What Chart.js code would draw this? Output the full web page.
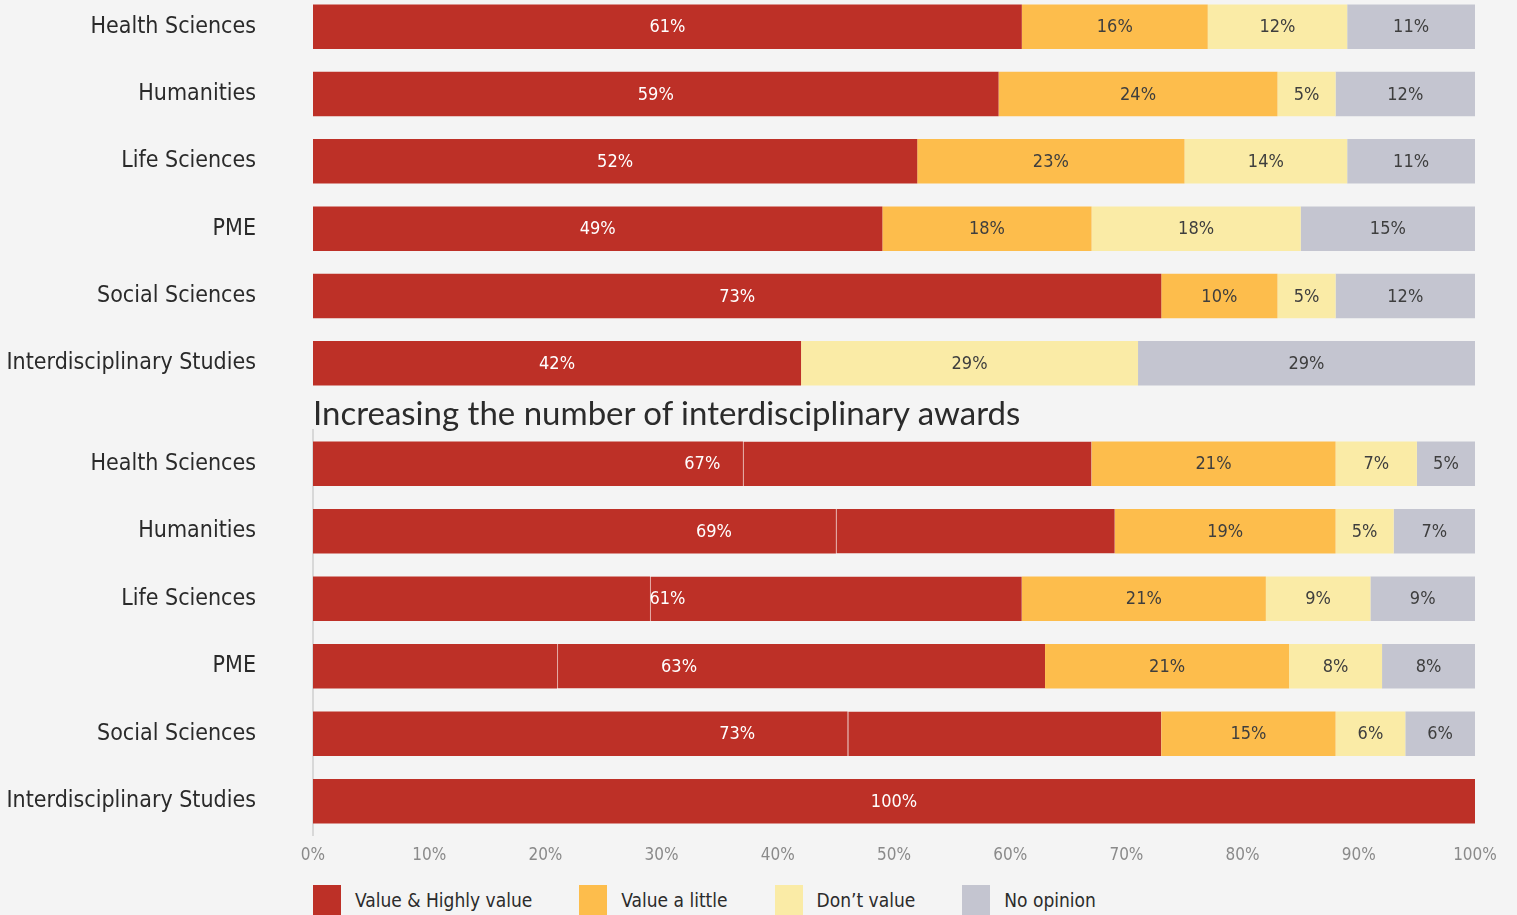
<!DOCTYPE html>
<html>
<head>
<meta charset="utf-8">
<title>Survey responses by faculty</title>
<script src="https://cdn.jsdelivr.net/npm/chart.js@4.4.1/dist/chart.umd.min.js"></script>
<style>
  html, body { margin: 0; padding: 0; background: #f4f4f4; overflow: hidden; }
  body { width: 1517px; height: 915px; position: relative; }
  #top-chart { position: absolute; left: 0; top: -7px; }
  #bottom-chart { position: absolute; left: 0; top: 395px; }
  #panel-title {
    position: absolute; left: 313px; top: 392px;
    font: 33px Lato, "Open Sans", sans-serif; color: #2b2b2b; white-space: nowrap;
  }
  #legend {
    position: absolute; left: 313px; top: 885px; display: flex;
    font: 19px "DejaVu Sans Condensed", sans-serif; color: #2b2b2b;
  }
  .item { display: flex; align-items: flex-start; margin-right: 47px; }
  .swatch { width: 28px; height: 32px; margin-right: 14px; }
  .item span { line-height: 30px; }
</style>
</head>
<body>
<canvas id="top-chart" width="1517" height="404"></canvas>
<div id="panel-title">Increasing the number of interdisciplinary awards</div>
<canvas id="bottom-chart" width="1517" height="470"></canvas>
<div id="legend"></div>

<script>
const faculties = ["Health Sciences", "Humanities", "Life Sciences", "PME", "Social Sciences", "Interdisciplinary Studies"];
const seriesNames = ["Value & Highly value", "Value a little", "Don\u2019t value", "No opinion"];
const seriesColors = ["#bd3027", "#fdbd4c", "#faeba6", "#c4c5d0"];
const xTicks = [0, 10, 20, 30, 40, 50, 60, 70, 80, 90, 100];

// first panel
const topValue = [61, 59, 52, 49, 73, 42];
const topLittle = [16, 24, 23, 18, 10, 0];
const topDont = [12, 5, 14, 18, 5, 29];
const topNone = [11, 12, 11, 15, 12, 29];

// interdisciplinary awards panel (red bar is two pieces: highly value + value)
const awardsHighly = [37, 45, 29, 21, 46, 100];
const awardsValue = [30, 24, 32, 42, 27, 0];
const awardsLittle = [21, 19, 21, 21, 15, 0];
const awardsDont = [7, 5, 9, 8, 6, 0];
const awardsNone = [5, 7, 9, 8, 6, 0];

const labelFont = '"DejaVu Sans Condensed", sans-serif';

// writes the percentage in the middle of each (grouped) segment
const barLabels = {
  id: 'barLabels',
  afterDatasetsDraw(chart, args, opts) {
    const ctx = chart.ctx;
    ctx.save();
    ctx.font = '18px ' + labelFont;
    ctx.textAlign = 'center';
    ctx.textBaseline = 'middle';
    opts.groups.forEach(group => {
      const metas = group.map(i => chart.getDatasetMeta(i));
      chart.data.labels.forEach((_, idx) => {
        const total = group.reduce((s, i) => s + chart.data.datasets[i].data[idx], 0);
        if (!total) return;
        const first = metas[0].data[idx];
        const last = metas[metas.length - 1].data[idx];
        ctx.fillStyle = group[0] <= opts.lightUpTo ? '#ffffff' : '#3e3e3e';
        ctx.fillText(total + '%', (first.base + last.x) / 2, first.y + 1);
      });
    });
    ctx.restore();
  }
};

function yAxis(border) {
  return {
    stacked: true,
    grid: { display: false, drawTicks: false },
    border: border,
    ticks: { color: '#2a2a2a', padding: 57, font: { size: 23, family: labelFont } },
    afterFit(scale) {
      scale.width = 313;
      scale.paddingTop = 0;
      scale.paddingBottom = 0;
    }
  };
}

const topChart = new Chart(document.getElementById('top-chart'), {
  type: 'bar',
  data: {
    labels: faculties,
    datasets: [topValue, topLittle, topDont, topNone].map((d, i) => ({
      label: seriesNames[i], data: d, backgroundColor: seriesColors[i],
      categoryPercentage: 1, barPercentage: 0.66
    }))
  },
  options: {
    indexAxis: 'y',
    responsive: false,
    animation: false,
    layout: { padding: { right: 42 } },
    scales: {
      x: { stacked: true, min: 0, max: 100, display: false },
      y: yAxis({ display: false })
    },
    plugins: {
      legend: { display: false },
      tooltip: { enabled: false },
      barLabels: { groups: [[0], [1], [2], [3]], lightUpTo: 0 }
    }
  },
  plugins: [barLabels]
});

const awardsSets = [awardsHighly, awardsValue, awardsLittle, awardsDont, awardsNone];
const awardsColors = [seriesColors[0], seriesColors[0], seriesColors[1], seriesColors[2], seriesColors[3]];

const bottomChart = new Chart(document.getElementById('bottom-chart'), {
  type: 'bar',
  data: {
    labels: faculties,
    datasets: awardsSets.map((d, i) => ({
      label: i < 2 ? seriesNames[0] : seriesNames[i - 1],
      data: d,
      backgroundColor: awardsColors[i],
      borderColor: 'rgba(215,110,100,0.55)',
      borderWidth: i === 1 ? { left: 1, right: 0, top: 0, bottom: 0 } : 0,
      borderSkipped: false,
      categoryPercentage: 1, barPercentage: 0.66
    }))
  },
  options: {
    indexAxis: 'y',
    responsive: false,
    animation: false,
    layout: { padding: { top: 35, right: 42 } },
    scales: {
      x: {
        stacked: true, min: 0, max: 100,
        grid: { display: false, drawTicks: false },
        border: { display: false },
        afterBuildTicks(scale) { scale.ticks = xTicks.map(v => ({ value: v })); },
        ticks: {
          color: '#8a8a8a', padding: 10,
          font: { size: 17, family: labelFont },
          callback: v => v + '%'
        },
        afterFit(scale) {
          scale.height = 30;
          scale.paddingLeft = 0;
          scale.paddingRight = 0;
        }
      },
      y: yAxis({ display: true, color: '#d8d8d8', width: 2 })
    },
    plugins: {
      legend: { display: false },
      tooltip: { enabled: false },
      barLabels: { groups: [[0, 1], [2], [3], [4]], lightUpTo: 1 }
    }
  },
  plugins: [barLabels]
});

// legend below the second panel
const legend = document.getElementById('legend');
seriesNames.forEach((name, i) => {
  const item = document.createElement('div');
  item.className = 'item';
  item.innerHTML = `<div class="swatch" style="background:${seriesColors[i]}"></div><span>${name}</span>`;
  legend.appendChild(item);
});
</script>
</body>
</html>
